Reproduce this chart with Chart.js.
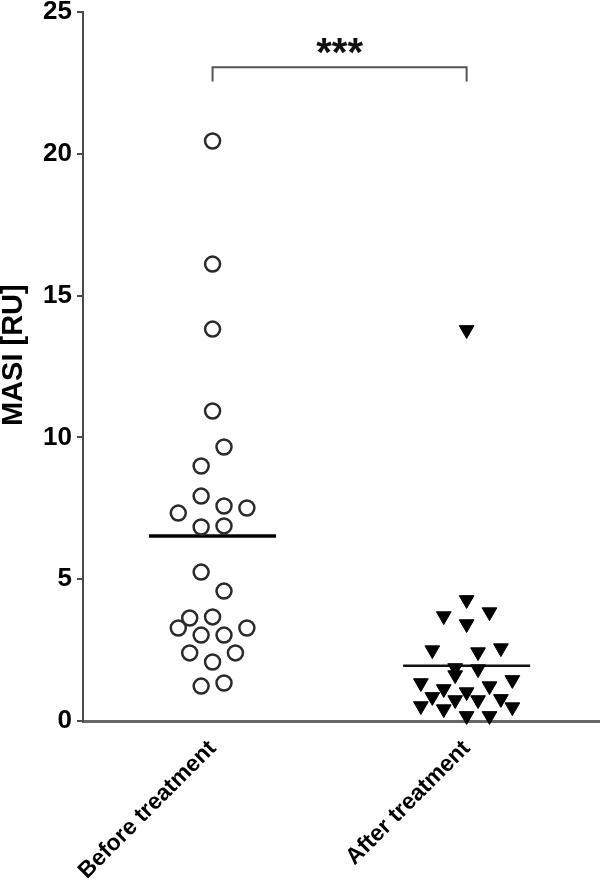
<!DOCTYPE html>
<html>
<head>
<meta charset="utf-8">
<title>MASI before and after treatment</title>
<script src="https://cdn.jsdelivr.net/npm/chart.js@4/dist/chart.umd.min.js"></script>
<style>
    body { margin : 0; background : #fff; }
    #wrap { width : 600px; height : 887px; position : relative; }
</style>
</head>
<body>
<div id="wrap"><canvas id="masiChart"></canvas></div>
<script>
var categories = ["Before treatment", "After treatment"];
var categoryX = [1, 3];

// one value per subject
var beforeValues = [20.45, 16.11, 13.82, 10.93, 9.66, 8.99, 7.93, 7.58, 7.51, 7.33, 6.84, 6.88, 5.25,
    4.58, 3.63, 3.67, 3.28, 3.03, 3.03, 3.28, 2.40, 2.40, 2.08, 1.23, 1.34];
var beforeSlots = [0, 0, 0, 0, 1, -1, -1, 1, 3, -3, -1, 1, -1,
    1, -2, 0, -3, -1, 1, 3, -2, 2, 0, -1, 1];

var afterValues = [13.79, 4.27, 3.70, 3.84, 3.42, 2.50, 2.43, 2.57, 1.87, 1.62, 1.83, 1.34, 1.45,
    1.13, 1.23, 1.02, 0.85, 0.74, 0.74, 0.78, 0.53, 0.42, 0.49, 0.18, 0.18];
var afterSlots = [0, 0, -2, 2, 0, -3, 1, 3, -1, -1, 1, -4, 4,
    -2, 2, 0, -3, -1, 1, 3, -4, -2, 4, 0, 2];

var groupMeans = [6.52, 1.95];
var yTicks = [0, 5, 10, 15, 20, 25];
var yTitle = "MASI [RU]";
var significance = "***";

var JITTER = 0.09;
var FONT = "'Liberation Sans', Arial, sans-serif";
var AXIS_COLOR = "#4a4a4a";

function toPoints(values, slots, cx) {
    return values.map(function (v, i) {
        return {x : cx + slots[i] * JITTER, y : v};
    });
}

function meanLine(i) {
    return [{x : categoryX[i] - 0.5, y : groupMeans[i]}, {x : categoryX[i] + 0.5, y : groupMeans[i]}];
}

// bracket with stars, plus the y title (drawn here so it sits where the original has it)
var annotatePlugin = {
    id : "annotate",
    afterDatasetsDraw : function (chart) {
        var ctx = chart.ctx;
        var xs = chart.scales.x, ys = chart.scales.y;
        var x1 = xs.getPixelForValue(categoryX[0]);
        var x2 = xs.getPixelForValue(categoryX[1]);
        var top = ys.getPixelForValue(23.05);
        var foot = ys.getPixelForValue(22.55);
        ctx.save();
        ctx.strokeStyle = "#555";
        ctx.lineWidth = 2;
        ctx.beginPath();
        ctx.moveTo(x1, foot);
        ctx.lineTo(x1, top);
        ctx.lineTo(x2, top);
        ctx.lineTo(x2, foot);
        ctx.stroke();
        ctx.fillStyle = "#111";
        ctx.font = "bold 40px " + FONT;
        ctx.textAlign = "center";
        ctx.textBaseline = "alphabetic";
        ctx.fillText(significance, (x1 + x2) / 2, ys.getPixelForValue(23.1));

        ctx.translate(14, ys.getPixelForValue(12.9));
        ctx.rotate(-Math.PI / 2);
        ctx.fillStyle = "#000";
        ctx.font = "bold 29px " + FONT;
        ctx.textBaseline = "middle";
        ctx.fillText(yTitle, 0, 0);
        ctx.restore();
    }
};

var dataset = [
    {
        label : categories[0],
        data : toPoints(beforeValues, beforeSlots, categoryX[0]),
        pointStyle : "circle",
        pointRadius : 7.5,
        pointBorderWidth : 2.5,
        pointBorderColor : "#2a2a2a",
        pointBackgroundColor : "rgba(0,0,0,0)",
        showLine : false,
        clip : false
    }, {
        label : categories[1],
        data : toPoints(afterValues, afterSlots, categoryX[1]),
        pointStyle : "triangle",
        pointRotation : 180,
        pointRadius : 8.5,
        pointBorderWidth : 1,
        pointBorderColor : "#000",
        pointBackgroundColor : "#000",
        showLine : false,
        clip : false
    }, {
        type : "line",
        label : "mean before",
        data : meanLine(0),
        borderColor : "#000",
        borderWidth : 3.5,
        pointRadius : 0
    }, {
        type : "line",
        label : "mean after",
        data : meanLine(1),
        borderColor : "#111",
        borderWidth : 2.5,
        pointRadius : 0
    }
];

var options = {
    responsive : true,
    maintainAspectRatio : false,
    animation : false,
    layout : {padding : 0, autoPadding : false},
    plugins : {
        legend : {display : false},
        tooltip : {enabled : false}
    },
    scales : {
        x : {
            type : "linear",
            min : -0.02,
            max : 4.05,
            grid : {display : false, drawTicks : false},
            border : {display : true, color : "#666", width : 3},
            ticks : {
                autoSkip : false,
                minRotation : 45,
                maxRotation : 45,
                padding : 14,
                color : "#000",
                font : {family : FONT, weight : "bold", size : 23},
                callback : function (value) {
                    var i = categoryX.indexOf(value);
                    return i < 0 ? "" : categories[i];
                }
            },
            afterBuildTicks : function (scale) {
                scale.ticks = categoryX.map(function (v) { return {value : v}; });
            },
            afterFit : function (scale) {
                scale.height = 166;
                scale.paddingLeft = 0;
                scale.paddingRight = 0;
            }
        },
        y : {
            min : 0,
            max : 25,
            grid : {display : true, drawOnChartArea : false, drawTicks : true, tickLength : 6, color : AXIS_COLOR, lineWidth : 2},
            border : {display : true, color : AXIS_COLOR, width : 2},
            afterBuildTicks : function (scale) {
                scale.ticks = yTicks.map(function (v) { return {value : v}; });
            },
            ticks : {
                padding : 5,
                color : "#000",
                font : {family : FONT, weight : "bold", size : 26, lineHeight : 0.9}
            },
            afterFit : function (scale) {
                scale.width = 83;
                scale.paddingTop = 12;
                scale.paddingBottom = 0;
            }
        }
    }
};

var ctx1 = document.getElementById("masiChart").getContext("2d");
new Chart(ctx1, {type : "scatter", data : {datasets : dataset}, options : options, plugins : [annotatePlugin]});
</script>
</body>
</html>
